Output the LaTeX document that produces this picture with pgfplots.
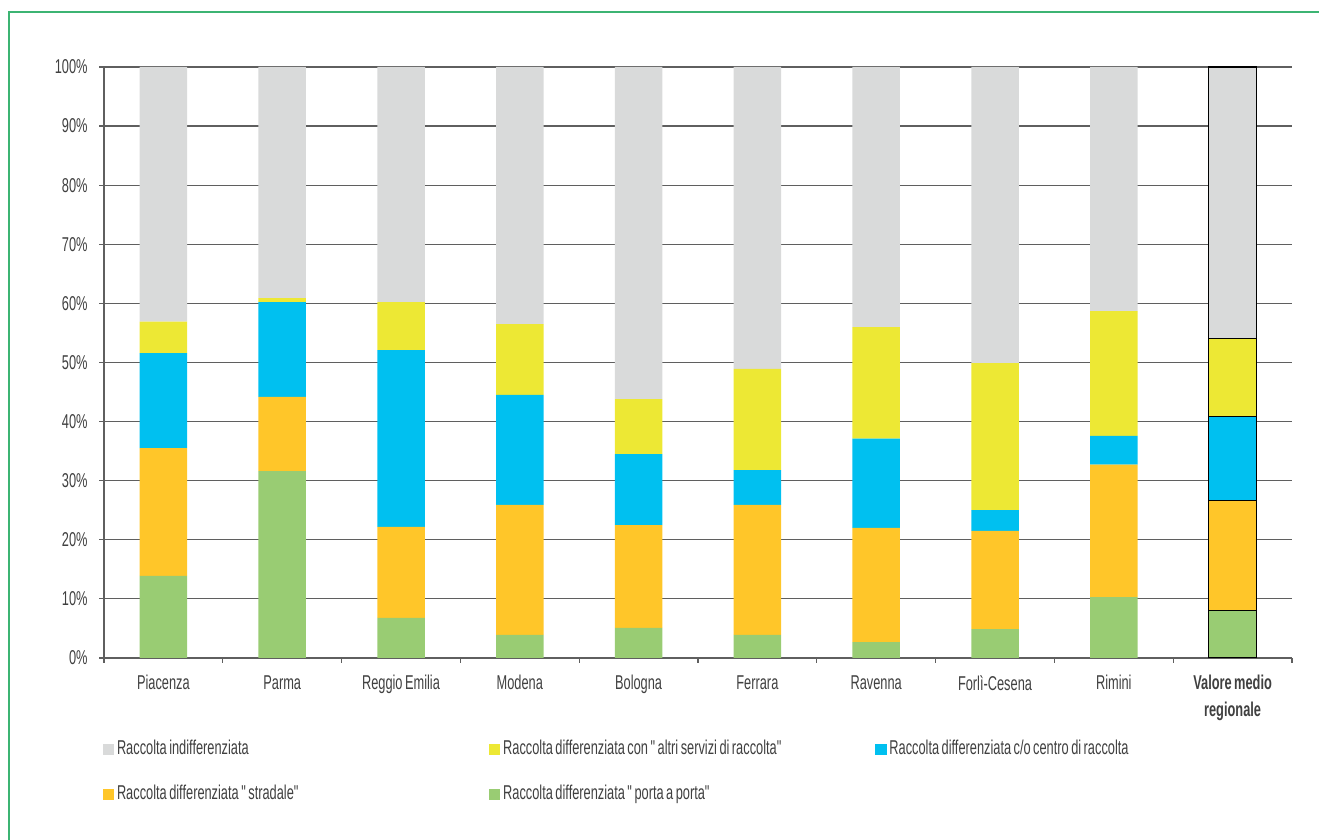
\documentclass[border=0pt]{standalone}
\usepackage{fontspec}
\setmainfont{Liberation Sans}[FakeStretch=0.64, WordSpace=0.7, Ligatures=NoCommon]
\usepackage{pgfplots}
\usepackage{pgfplotstable}
\pgfplotsset{compat=1.18}

\definecolor{cgrey}{RGB}{217,218,218}
\definecolor{cyellow}{RGB}{237,232,52}
\definecolor{cblue}{RGB}{0,192,240}
\definecolor{corange}{RGB}{255,198,41}
\definecolor{cgreen}{RGB}{153,204,115}
\definecolor{frame}{RGB}{60,180,115}
\definecolor{gridc}{RGB}{95,95,95}
\definecolor{txt}{RGB}{64,64,64}

% per province: porta a porta, stradale, centro di raccolta, altri servizi, indifferenziata
\pgfplotstableread{
x    g    o    b    y    r
0.5  13.9 21.6 16.1 5.3  43.1
1.5  31.6 12.6 16.0 0.7  39.1
2.5  6.8  15.4 29.9 8.1  39.8
3.5  3.9  22.0 18.6 12.0 43.5
4.5  5.1  17.4 12.0 9.3  56.2
5.5  3.9  22.0 5.9  17.1 51.1
6.5  2.7  19.3 15.1 18.9 44.0
7.5  4.9  16.6 3.5  24.9 50.1
8.5  10.3 22.4 4.9  21.1 41.3
}\provdata

\pgfplotstableread{
x    g    o    b    y    r
9.5  8.0  18.6 14.3 13.1 46.0
}\regdata

\newcommand{\entry}[1]{\makebox[184.5pt][l]{#1}}
\newcommand{\q}{\textquotedbl}

\pgfplotsset{
    common/.style={
        at={(52pt,91pt)}, anchor=south west,
        scale only axis, width=594pt, height=295.5pt,
        xmin=0, xmax=10, ymin=0, ymax=100,
        ybar stacked, bar width=23.75pt,
    },
    sq/.style={legend image code/.code={\fill[#1] (0pt,-2.6pt) rectangle (5.2pt,2.6pt);}},
}

\begin{document}
\begin{tikzpicture}[font=\fontsize{10}{12}\selectfont]
    \path[use as bounding box] (0,0) rectangle (659.5pt,420pt);
    \draw[frame, line width=0.8pt] (4.5pt,-2pt) -- (4.5pt,414pt) -- (662pt,414pt);

    \begin{axis}[
            common,
            axis x line*=bottom, axis y line*=left,
            axis line style={-, gridc, line width=0.7pt},
            ymajorgrids, grid style={gridc, line width=0.6pt},
            ytick={0,10,...,100},
            yticklabel={\pgfmathprintnumber{\tick}\%},
            /pgf/number format/assume math mode=true,
            xtick={0.5,1.5,...,9.5},
            xticklabels={Piacenza, Parma, Reggio Emilia, Modena, Bologna, Ferrara, Ravenna, Forlì-Cesena, Rimini,
                {\spaceskip=0pt\textbf{Valore medio}\\[1.5pt]\textbf{regionale}}},
            minor xtick={0,1,...,10},
            tick align=outside,
            major x tick style={draw=none},
            minor tick length=2.5pt, major tick length=2.5pt,
            tick style={gridc, line width=0.6pt},
            xticklabel style={txt, align=center, inner sep=0pt, yshift=-6pt},
            yticklabel style={txt, inner sep=0pt, xshift=-5.5pt},
            legend style={
                at={(-0.001,-0.134)}, anchor=north west,
                draw=none, inner sep=0pt, outer sep=0pt,
                legend columns=3,
                /tikz/column sep=0pt, /tikz/row sep=10.5pt,
                nodes={txt, inner sep=1.5pt, text height=7pt, text depth=2pt},
            },
            legend cell align=left,
        ]
        \addlegendimage{sq=cgrey}\addlegendentry{\entry{Raccolta indifferenziata}}
        \addlegendimage{sq=cyellow}\addlegendentry{\entry{Raccolta differenziata con \q altri servizi di raccolta\q}}
        \addlegendimage{sq=cblue}\addlegendentry{\entry{Raccolta differenziata c/o centro di raccolta}}
        \addlegendimage{sq=corange}\addlegendentry{\entry{Raccolta differenziata \q stradale\q}}
        \addlegendimage{sq=cgreen}\addlegendentry{\entry{Raccolta differenziata \q porta a porta\q}}

        \addplot[forget plot, fill=cgreen, draw=none] table[x=x, y=g] {\provdata};
        \addplot[forget plot, fill=corange, draw=none] table[x=x, y=o] {\provdata};
        \addplot[forget plot, fill=cblue, draw=none] table[x=x, y=b] {\provdata};
        \addplot[forget plot, fill=cyellow, draw=none] table[x=x, y=y] {\provdata};
        \addplot[forget plot, fill=cgrey, draw=none] table[x=x, y=r] {\provdata};
    \end{axis}

    % regional average, outlined
    \begin{axis}[common, hide axis]
        \addplot[fill=cgreen, draw=black, line width=0.6pt] table[x=x, y=g] {\regdata};
        \addplot[fill=corange, draw=black, line width=0.6pt] table[x=x, y=o] {\regdata};
        \addplot[fill=cblue, draw=black, line width=0.6pt] table[x=x, y=b] {\regdata};
        \addplot[fill=cyellow, draw=black, line width=0.6pt] table[x=x, y=y] {\regdata};
        \addplot[fill=cgrey, draw=black, line width=0.6pt] table[x=x, y=r] {\regdata};
    \end{axis}
\end{tikzpicture}
\end{document}
